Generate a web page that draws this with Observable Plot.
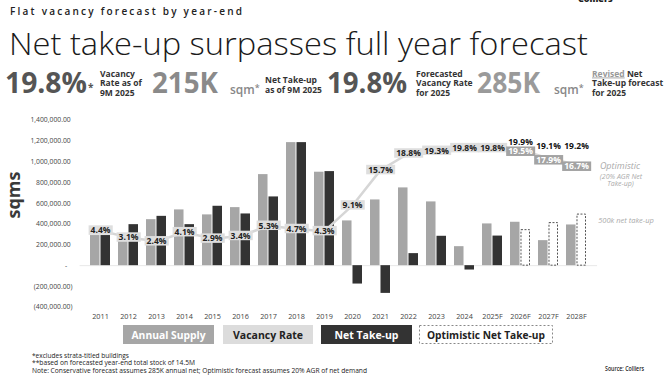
<!DOCTYPE html>
<html><head><meta charset="utf-8">
<script src="https://cdn.jsdelivr.net/npm/d3@7"></script>
<script src="https://cdn.jsdelivr.net/npm/@observablehq/plot@0.6"></script>
<style>
html,body{margin:0;padding:0;background:#fff;}
#wrap{position:relative;width:668px;height:382px;overflow:hidden;font-family:"Open Sans",sans-serif;}
#wrap svg{position:absolute;left:0;top:0;}
</style></head><body>
<div id="wrap">
<div id="chart"></div>
<svg id="overlay" width="668" height="382" font-family="Open Sans, sans-serif">
  <text x="578" y="2" font-size="9" font-weight="800" fill="#222">Colliers</text>
  <text x="10" y="14.5" font-size="10" font-weight="600" fill="#222" textLength="232" lengthAdjust="spacing">Flat vacancy forecast by year-end</text>
  <text x="9" y="55" font-size="32" font-weight="300" fill="#1a1a1a" textLength="579" lengthAdjust="spacingAndGlyphs">Net take-up surpasses full year forecast</text>

  <text x="5" y="93" font-size="28" font-weight="700" fill="#555" textLength="82" lengthAdjust="spacingAndGlyphs">19.8%</text>
  <text x="88" y="91" font-size="10" font-weight="700" fill="#555">*</text>
  <g font-size="8.5" font-weight="700" fill="#333">
    <text x="100" y="76.5">Vacancy</text>
    <text x="100" y="86">Rate as of</text>
    <text x="100" y="95.5">9M 2025</text>
  </g>
  <text x="152" y="93" font-size="28" font-weight="700" fill="#8a8a8a" textLength="66" lengthAdjust="spacingAndGlyphs">215K</text>
  <text x="230" y="94" font-size="12" font-weight="600" fill="#888">sqm<tspan dy="-3" font-size="9">*</tspan></text>
  <g font-size="8.5" font-weight="700" fill="#333">
    <text x="265" y="83">Net Take-up</text>
    <text x="265" y="93">as of 9M 2025</text>
  </g>
  <text x="327" y="93" font-size="28" font-weight="700" fill="#555" textLength="80" lengthAdjust="spacingAndGlyphs">19.8%</text>
  <g font-size="8.5" font-weight="700" fill="#333">
    <text x="416" y="76.5">Forecasted</text>
    <text x="416" y="86">Vacancy Rate</text>
    <text x="416" y="95.5">for 2025</text>
  </g>
  <text x="477" y="93" font-size="28" font-weight="700" fill="#9a9a9a" textLength="63" lengthAdjust="spacingAndGlyphs">285K</text>
  <text x="554" y="94" font-size="12" font-weight="600" fill="#888">sqm<tspan dy="-3" font-size="9">*</tspan></text>
  <g font-size="8.5" font-weight="700" fill="#333">
    <text x="592" y="76.5"><tspan fill="#999" text-decoration="underline">Revised</tspan> Net</text>
    <text x="592" y="86">Take-up forecast</text>
    <text x="592" y="95.5">for 2025</text>
  </g>

  <text transform="translate(20,195) rotate(-90)" text-anchor="middle" font-size="18" font-weight="700" fill="#3a3a3a">sqms</text>

  <g font-style="italic" fill="#aaa" text-anchor="middle">
    <text x="620" y="169" font-size="9">Optimistic</text>
    <text x="621" y="178.5" font-size="7">(20% AGR Net</text>
    <text x="620.5" y="186" font-size="7">Take-up)</text>
    <text x="626" y="222.5" font-size="7.5">500k net take-up</text>
  </g>

  <g font-size="11" font-weight="700" text-anchor="middle">
    <rect x="123" y="325" width="91" height="19" fill="#a6a6a6"/>
    <text x="168.5" y="338.5" fill="#fff" textLength="74" lengthAdjust="spacingAndGlyphs">Annual Supply</text>
    <rect x="223" y="325" width="90" height="19" fill="#dcdcdc"/>
    <text x="268" y="338.5" fill="#222" textLength="70" lengthAdjust="spacingAndGlyphs">Vacancy Rate</text>
    <rect x="321" y="325" width="91" height="19" fill="#333"/>
    <text x="366.5" y="338.5" fill="#fff" textLength="64" lengthAdjust="spacingAndGlyphs">Net Take-up</text>
    <rect x="419.5" y="325.5" width="133" height="18" fill="#fff" stroke="#888" stroke-dasharray="2,2"/>
    <text x="486" y="338.5" fill="#222" textLength="118" lengthAdjust="spacingAndGlyphs">Optimistic Net Take-up</text>
  </g>

  <g font-size="7" fill="#222">
    <text x="32" y="357.5" textLength="97" lengthAdjust="spacingAndGlyphs">*excludes strata-titled buildings</text>
    <text x="32" y="365" textLength="163" lengthAdjust="spacingAndGlyphs">**based on forecasted year-end total stock of 14.5M</text>
    <text x="32" y="372.5" textLength="335" lengthAdjust="spacingAndGlyphs">Note: Conservative forecast assumes 285K annual net; Optimistic forecast assumes 20% AGR of net demand</text>
    <text x="605" y="371" font-weight="600" textLength="39" lengthAdjust="spacingAndGlyphs">Source: Colliers</text>
  </g>
</svg>
</div>
<script>
// ---- data ----
const years = ["2011","2012","2013","2014","2015","2016","2017","2018","2019","2020","2021","2022","2023","2024","2025F","2026F","2027F","2028F"];
const annualSupply = [290000,240000,443000,537000,489000,559000,877000,1185000,900000,431000,633000,749000,614000,183000,402000,418000,241000,392000];
const netTakeUp = [290000,395000,475000,395000,572000,498000,662000,1185000,906000,-177000,-267000,116000,283000,-42000,285000,null,null,null];
const optimisticNetTakeUp = [null,null,null,null,null,null,null,null,null,null,null,null,null,null,null,342000,410000,492000];
const vacancyRate = [4.4,3.1,2.4,4.1,2.9,3.4,5.3,4.7,4.3,9.1,15.7,18.8,19.3,19.8,19.8,null,null,null];
const vacancyOptimistic = [null,null,null,null,null,null,null,null,null,null,null,null,null,null,19.8,19.5,17.9,16.7];
const vacancyConservative = [null,null,null,null,null,null,null,null,null,null,null,null,null,null,null,19.9,19.1,19.2];
const yTicks = [-400000,-200000,0,200000,400000,600000,800000,1000000,1200000,1400000];
// hidden secondary axis for vacancy (%), aligned with the sqm axis
const vacAxisDomain = [-9.9, 25.0];

const rows = years.map((year, i) => ({
  year, supply: annualSupply[i], net: netTakeUp[i], opt: optimisticNetTakeUp[i],
  vac: vacancyRate[i], vacOpt: vacancyOptimistic[i], vacCons: vacancyConservative[i]
}));
const yDomain = [yTicks[0], yTicks[yTicks.length - 1]];
const vacScale = d3.scaleLinear().domain(vacAxisDomain).range(yDomain);

const W = 668, H = 382, mL = 79.6, mR = 70.9, pad = 0.27;
const step = (W - mL - mR) / years.length;
const half = step * (1 - pad) / 2;
const num = d3.format(",.2f");
const fmt = d => d === 0 ? "-\u00a0\u00a0\u00a0" : d < 0 ? `(${num(-d)})` : num(d) + "\u00a0";

const lineData = [
  ...rows.filter(d => d.vac != null).map(d => ({year: d.year, v: d.vac, s: "actual"})),
  ...rows.filter(d => d.vacOpt != null).map(d => ({year: d.year, v: d.vacOpt, s: "optimistic"}))
];

const chart = Plot.plot({
  width: W, height: H, marginLeft: mL, marginRight: mR, marginTop: 119.8, marginBottom: 75.3,
  style: {fontFamily: "Open Sans, sans-serif", fontSize: "7.3px", color: "#444", background: "transparent"},
  x: {type: "band", domain: years, paddingInner: pad, paddingOuter: pad / 2, label: null, tickSize: 0, tickPadding: 7},
  y: {domain: yDomain, ticks: yTicks, tickFormat: fmt, tickSize: 0, tickPadding: 7.6, label: null},
  marks: [
    Plot.ruleY([0], {stroke: "#e8e8e8"}),
    Plot.barY(rows, {x: "year", y: "supply", fill: "#a6a6a6", insetRight: half}),
    Plot.barY(rows.filter(d => d.net != null), {x: "year", y: "net", fill: "#333", insetLeft: half}),
    Plot.barY(rows.filter(d => d.opt != null), {x: "year", y: "opt", fill: "#fff", stroke: "#555", strokeWidth: 1, strokeDasharray: "2,1.5", insetLeft: half + 0.5, insetRight: 0.5}),
    Plot.line(lineData, {x: "year", y: d => vacScale(d.v), z: "s", stroke: "#d6d6d6", strokeWidth: 2.5}),
    Plot.text(rows.filter(d => d.vac != null), {x: "year", y: d => vacScale(d.vac), text: d => d.vac.toFixed(1) + "%", fontWeight: 700, fontSize: 8.5, fill: "#222"}),
    Plot.text(rows.filter(d => d.vacOpt != null && d.vac == null), {x: "year", y: d => vacScale(d.vacOpt), text: d => d.vacOpt.toFixed(1) + "%", fontWeight: 700, fontSize: 8.5, fill: "#fff", dy: 2}),
    Plot.text(rows.filter(d => d.vacCons != null), {x: "year", y: d => vacScale(d.vacCons), text: d => d.vacCons.toFixed(1) + "%", fontWeight: 700, fontSize: 8.5, fill: "#111", dy: -5.5})
  ]
});
document.getElementById("chart").append(chart);

// smaller y tick labels
for (const g of chart.querySelectorAll('g[aria-label^="y-axis"]')) g.setAttribute("font-size", "6.8");

// label background boxes behind vacancy labels
const ns = "http://www.w3.org/2000/svg";
const groups = chart.querySelectorAll('g[aria-label="text"]');
function boxes(g, fill) {
  if (!g) return;
  for (const t of g.querySelectorAll("text")) {
    const b = t.getBBox();
    const r = document.createElementNS(ns, "rect");
    r.setAttribute("x", b.x - 2);
    r.setAttribute("y", b.y + 1);
    r.setAttribute("width", b.width + 4);
    r.setAttribute("height", b.height - 1.5);
    r.setAttribute("fill", fill);
    const tr = t.getAttribute("transform");
    if (tr) r.setAttribute("transform", tr);
    t.parentNode.insertBefore(r, t);
  }
}
boxes(groups[0], "#dedede");
boxes(groups[1], "#a3a3a3");
</script>
</body></html>
